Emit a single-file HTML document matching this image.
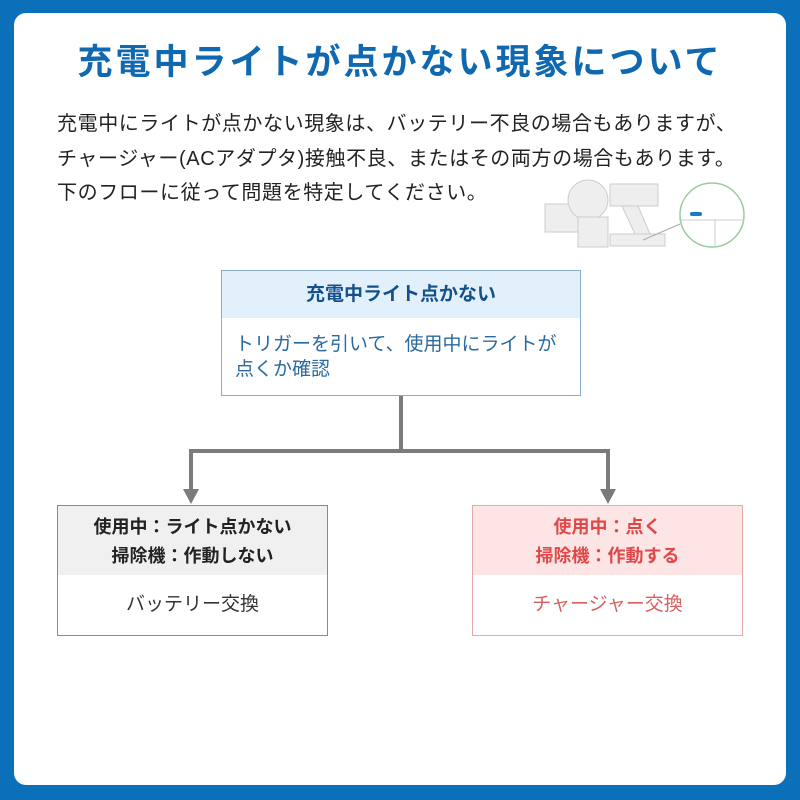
<!DOCTYPE html>
<html><head><meta charset="utf-8"><style>
body{margin:0;width:800px;height:800px;background:#0b6fba;position:relative;overflow:hidden;font-family:"Liberation Sans","Noto Sans CJK JP",sans-serif}
.inner{position:absolute;left:14px;top:13px;width:772px;height:772px;background:#fff;border-radius:12px}
.a{position:absolute;white-space:nowrap}
.title{left:0;width:800px;text-align:center;top:34px;font-size:35px;font-weight:bold;color:#0f68b0;letter-spacing:3px}
.p{left:57px;font-size:20px;color:#222;letter-spacing:0.6px}
.box{position:absolute;box-sizing:border-box;border:1.5px solid}
</style></head><body>
<div class="inner"></div>
<div class="a title">充電中ライトが点かない現象について</div>
<div class="a p" style="top:107px">充電中にライトが点かない現象は、バッテリー不良の場合もありますが、</div>
<div class="a p" style="top:142px">チャージャー(ACアダプタ)接触不良、またはその両方の場合もあります。</div>
<div class="a p" style="top:176px">下のフローに従って問題を特定してください。</div>
<svg class="a" style="left:540px;top:172px" width="210" height="85" viewBox="0 0 210 85">
<g fill="#eee" stroke="#ccc" stroke-width="1">
<rect x="5" y="32" width="38" height="28"/>
<circle cx="48" cy="28" r="20"/>
<rect x="38" y="45" width="30" height="30"/>
<rect x="70" y="12" width="48" height="22"/>
<path d="M82 34 L98 34 L110 62 L95 62 Z"/>
<rect x="70" y="62" width="55" height="12"/>
</g>
<circle cx="172" cy="43" r="32" fill="#fff" stroke="#9c9" stroke-width="1.5"/>
<rect x="150" y="40" width="12" height="4" rx="2" fill="#1a7bc8"/>
<line x1="140" y1="48" x2="204" y2="48" stroke="#ccc"/>
<line x1="175" y1="48" x2="175" y2="75" stroke="#ccc"/>
<line x1="103" y1="68" x2="140" y2="52" stroke="#aaa"/>
</svg>
<div class="box" style="left:221px;top:270px;width:360px;height:126px;border-color:#86aed0">
<div style="background:#e2f0fb;height:47px;text-align:center;line-height:48px;font-size:19px;font-weight:bold;color:#14508a">充電中ライト点かない</div>
<div style="padding:14px 0 0 13px;font-size:19px;line-height:25px;color:#2a6aa0">トリガーを引いて、使用中にライトが<br>点くか確認</div>
</div>
<svg class="a" style="left:0;top:0" width="800" height="800">
<g stroke="#7b7b7b" stroke-width="4" fill="none"><path d="M401 396 V451 M191 451 H609 M191 449 V492 M608 449 V492"/></g>
<g fill="#7b7b7b"><path d="M183 489 L199 489 L191 504 Z"/><path d="M600 489 L616 489 L608 504 Z"/></g>
</svg>
<div class="box" style="left:57px;top:505px;width:271px;height:131px;border-color:#8a8a8a">
<div style="background:#f0f0f0;height:69px;text-align:center;font-size:18px;font-weight:bold;color:#222;line-height:29px;padding-top:7px;box-sizing:border-box">使用中：ライト点かない<br>掃除機：作動しない</div>
<div style="text-align:center;font-size:19px;color:#333;line-height:60px">バッテリー交換</div>
</div>
<div class="box" style="left:472px;top:505px;width:271px;height:131px;border-color:#e3aaaa">
<div style="background:#fde5e5;height:69px;text-align:center;font-size:18px;font-weight:bold;color:#e04848;line-height:29px;padding-top:7px;box-sizing:border-box">使用中：点く<br>掃除機：作動する</div>
<div style="text-align:center;font-size:19px;color:#d86060;line-height:60px">チャージャー交換</div>
</div>
</body></html>
